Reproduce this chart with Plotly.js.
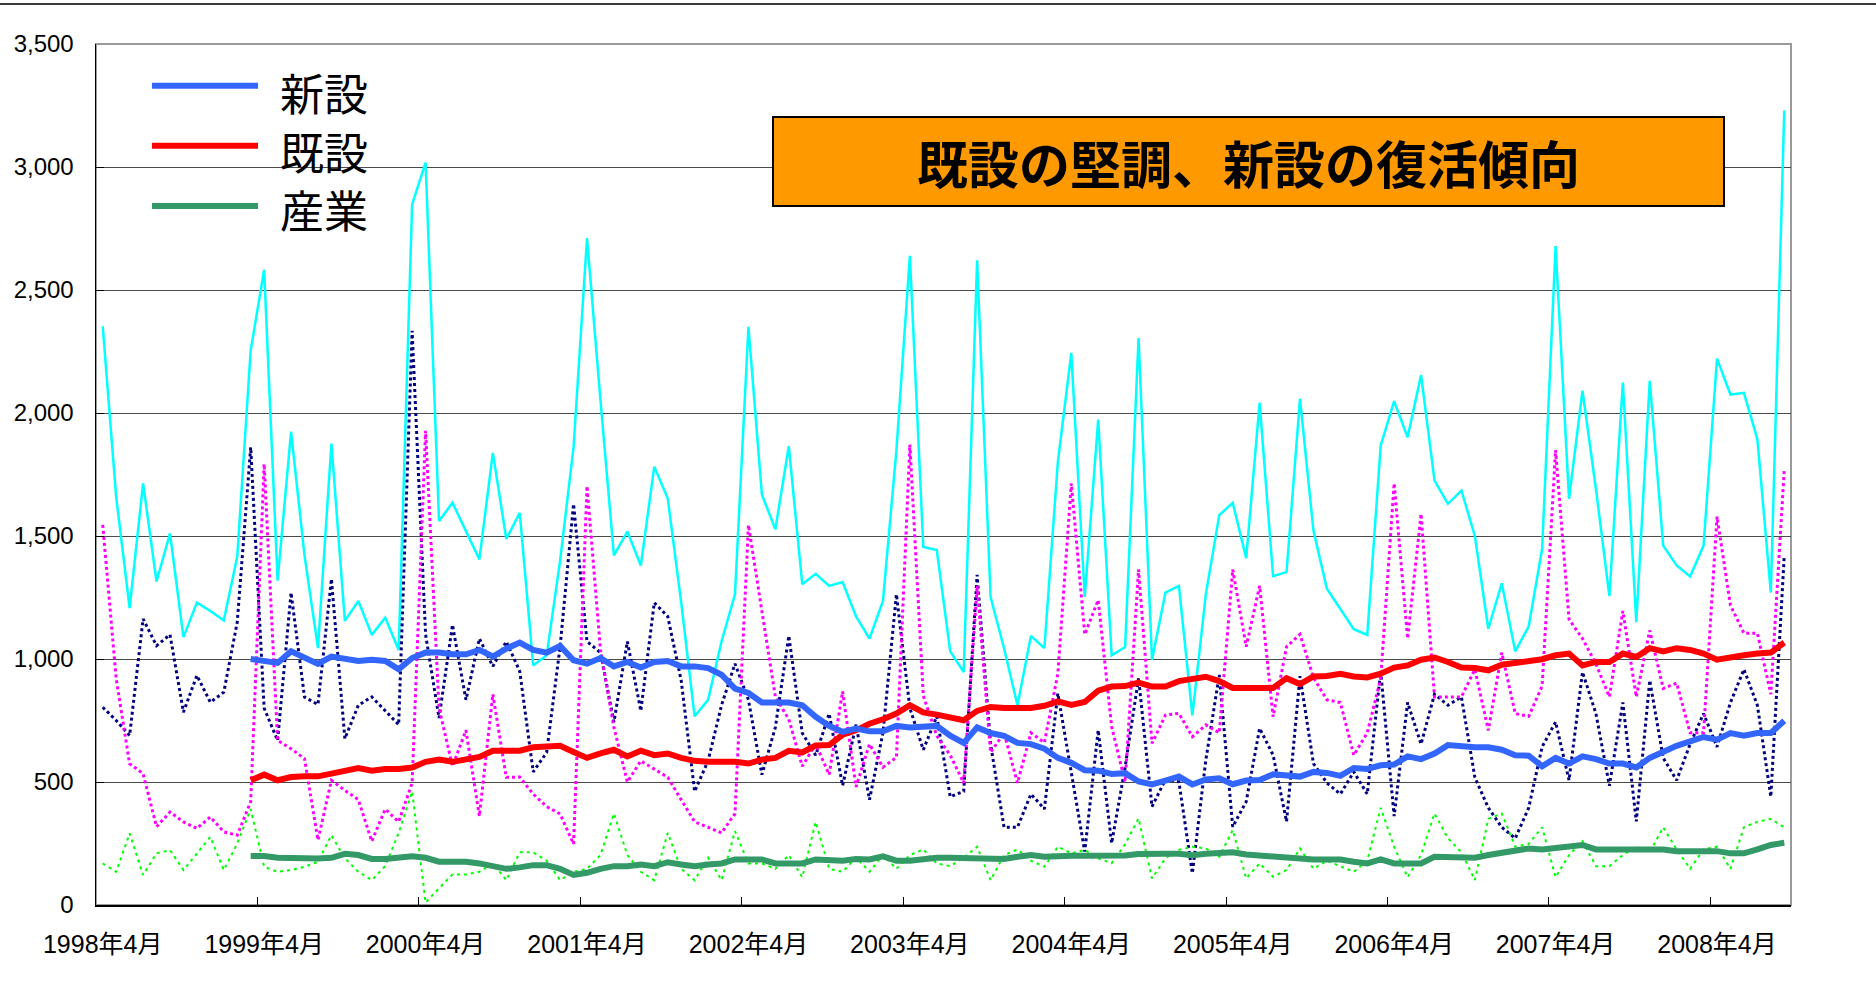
<!DOCTYPE html>
<html>
<head>
<meta charset="utf-8">
<script src="https://cdn.plot.ly/plotly-3.0.1.min.js"></script>
<style>
html,body{margin:0;padding:0;background:#fff;}
#chart{position:absolute;left:0;top:0;width:1876px;height:982px;}
#topline{position:absolute;left:0;top:3px;width:1876px;height:2px;background:#3a3a3a;z-index:5;}
</style>
</head>
<body>
<div id="chart"></div>
<div id="topline"></div>
<script>
// ---- categories (monthly, 1998年4月 – 2008年9月) ----
const months = [
"1998年4月","1998年5月","1998年6月","1998年7月","1998年8月","1998年9月","1998年10月","1998年11月","1998年12月","1999年1月","1999年2月","1999年3月",
"1999年4月","1999年5月","1999年6月","1999年7月","1999年8月","1999年9月","1999年10月","1999年11月","1999年12月","2000年1月","2000年2月","2000年3月",
"2000年4月","2000年5月","2000年6月","2000年7月","2000年8月","2000年9月","2000年10月","2000年11月","2000年12月","2001年1月","2001年2月","2001年3月",
"2001年4月","2001年5月","2001年6月","2001年7月","2001年8月","2001年9月","2001年10月","2001年11月","2001年12月","2002年1月","2002年2月","2002年3月",
"2002年4月","2002年5月","2002年6月","2002年7月","2002年8月","2002年9月","2002年10月","2002年11月","2002年12月","2003年1月","2003年2月","2003年3月",
"2003年4月","2003年5月","2003年6月","2003年7月","2003年8月","2003年9月","2003年10月","2003年11月","2003年12月","2004年1月","2004年2月","2004年3月",
"2004年4月","2004年5月","2004年6月","2004年7月","2004年8月","2004年9月","2004年10月","2004年11月","2004年12月","2005年1月","2005年2月","2005年3月",
"2005年4月","2005年5月","2005年6月","2005年7月","2005年8月","2005年9月","2005年10月","2005年11月","2005年12月","2006年1月","2006年2月","2006年3月",
"2006年4月","2006年5月","2006年6月","2006年7月","2006年8月","2006年9月","2006年10月","2006年11月","2006年12月","2007年1月","2007年2月","2007年3月",
"2007年4月","2007年5月","2007年6月","2007年7月","2007年8月","2007年9月","2007年10月","2007年11月","2007年12月","2008年1月","2008年2月","2008年3月",
"2008年4月","2008年5月","2008年6月","2008年7月","2008年8月","2008年9月"
];
const tickMonths = ["1998年4月","1999年4月","2000年4月","2001年4月","2002年4月","2003年4月","2004年4月","2005年4月","2006年4月","2007年4月","2008年4月"];
// moving averages start at 1999年3月
const maMonths = months.slice(11);

// ---- monthly values ----
const totalMonthly = [
2352,1658,1207,1714,1315,1511,1089,1229,1195,1157,1416,2255,
2582,1319,1924,1421,1044,1876,1155,1236,1098,1168,1037,2848,
3018,1561,1635,1520,1405,1838,1488,1594,974,1015,1400,1861,
2711,2052,1421,1518,1380,1782,1653,1230,767,834,1071,1263,
2350,1669,1527,1865,1304,1346,1297,1313,1173,1083,1236,1849,
2639,1455,1443,1031,947,2621,1252,1044,812,1094,1044,1800,
2244,1252,1973,1015,1049,2305,997,1270,1297,771,1263,1585,
1635,1410,2041,1337,1353,2058,1522,1286,1204,1121,1098,1867,
2048,1901,2154,1725,1631,1685,1500,1123,1308,1031,1132,1448,
2679,1651,2091,1691,1256,2124,1150,2131,1461,1380,1335,1461,
2221,2075,2082,1894,1270,3230
];
const newMonthly = [
804,750,689,1163,1054,1099,784,933,824,865,1150,1861,
800,669,1270,845,815,1325,676,812,846,789,733,2334,
1100,760,1139,834,1083,970,1071,950,541,620,1050,1630,
1071,1026,744,1071,789,1229,1173,913,462,586,812,981,
834,530,722,1094,699,609,778,485,733,428,700,1263,
800,631,767,440,462,1342,654,316,316,451,390,860,
540,217,711,251,560,922,400,510,501,129,589,935,
318,420,718,610,339,930,575,496,451,541,451,950,
361,823,654,857,812,846,519,395,316,271,395,643,
744,507,947,778,485,823,340,913,598,507,654,778,
643,823,958,812,440,1421
];
const existMonthly = [
1545,920,574,534,318,378,338,311,358,297,284,420,
1793,669,635,595,264,507,466,428,259,390,338,496,
1928,800,564,710,361,857,519,520,451,400,370,248,
1703,1037,722,500,586,553,519,428,338,316,293,372,
1545,1195,846,755,564,654,530,868,480,654,560,600,
1872,850,688,609,496,1297,620,700,496,700,660,940,
1714,1100,1240,725,500,1364,657,772,779,684,732,700,
1364,1050,1297,765,1050,1100,925,834,823,609,700,920,
1714,1083,1590,846,846,846,958,710,1026,778,767,890,
1849,1161,1083,980,846,1195,846,1116,880,902,700,700,
1579,1218,1105,1105,857,1770
];
const industryMonthly = [
169,135,291,122,210,223,142,210,277,142,250,390,
155,135,142,155,176,284,190,135,101,158,293,462,
10,68,124,124,135,169,101,214,214,180,101,135,
147,203,372,203,135,101,293,147,101,192,101,300,
169,169,147,203,113,338,147,135,192,135,203,147,
203,226,169,158,192,237,101,203,226,180,156,237,
210,224,190,170,247,352,108,190,224,237,230,196,
305,108,169,115,142,230,147,180,158,135,180,395,
237,113,203,372,271,214,101,350,372,237,248,316,
113,203,259,158,158,203,237,214,316,226,147,226,
237,147,316,338,350,316
];

// ---- moving averages (from 1999年3月) ----
const newMA = [
1000,
993,984,1031,1004,980,1010,1000,992,997,992,958,1004,
1026,1026,1019,1019,1037,1010,1042,1067,1037,1026,1053,995,
981,1004,970,988,965,988,992,970,970,963,936,880,
862,823,823,823,812,765,728,704,717,706,706,728,
722,728,728,688,659,722,699,688,659,654,635,598,
578,548,546,533,536,502,490,506,522,490,510,515,
491,506,508,531,524,522,541,537,525,557,553,568,
571,604,593,616,650,643,641,641,631,609,607,564,
598,575,604,593,575,575,559,598,625,647,665,683,
672,699,688,699,699,749
];
const existMA = [
507,
530,507,520,523,523,534,548,557,546,553,553,559,
582,591,582,591,602,627,627,627,641,641,647,622,
598,616,631,604,627,609,616,598,586,582,582,582,
575,591,598,627,620,648,650,692,710,737,755,778,
812,783,774,760,751,789,805,801,801,801,810,828,
813,825,871,888,890,904,888,888,910,922,928,910,
882,882,882,882,922,898,929,931,940,929,925,940,
965,974,997,1006,988,965,963,954,977,986,992,999,
1015,1022,974,988,988,1022,1008,1044,1031,1044,1037,1022,
997,1008,1015,1022,1026,1067
];
const industryMA = [
199,
199,192,189,189,189,192,208,203,187,187,192,198,
192,176,176,176,169,158,147,153,162,162,147,122,
131,147,158,158,165,158,174,165,158,165,169,185,
185,185,169,169,169,185,180,180,187,185,198,180,
180,187,192,192,192,187,187,187,196,203,196,200,
200,200,200,200,201,207,210,208,208,202,208,208,
214,205,200,200,194,188,185,185,185,176,169,185,
169,169,169,196,196,196,192,203,214,221,230,226,
230,237,244,226,226,226,232,226,226,219,219,214,
219,210,210,226,244,253
];

const legendNames = ["新設","既設","産業"];
const maColors = ["#3366FF","#FF0000","#339966"];

const traces = [
  {type:"scatter",mode:"lines",name:"新設+既設（月次）",x:months,y:totalMonthly,
   line:{color:"#00FFFF",width:2.5}},
  {type:"scatter",mode:"lines",name:"新設（月次）",x:months,y:newMonthly,
   line:{color:"#000080",width:3,dash:"3px,3px"}},
  {type:"scatter",mode:"lines",name:"既設（月次）",x:months,y:existMonthly,
   line:{color:"#FF00FF",width:3,dash:"3px,3px"}},
  {type:"scatter",mode:"lines",name:"産業（月次）",x:months,y:industryMonthly,
   line:{color:"#00FF00",width:2,dash:"3px,4px"}},
  {type:"scatter",mode:"lines",name:legendNames[2],x:maMonths,y:industryMA,
   line:{color:maColors[2],width:6}},
  {type:"scatter",mode:"lines",name:legendNames[1],x:maMonths,y:existMA,
   line:{color:maColors[1],width:6}},
  {type:"scatter",mode:"lines",name:legendNames[0],x:maMonths,y:newMA,
   line:{color:maColors[0],width:6}},
  {type:"scatter",mode:"lines",x:[],y:[],xaxis:"x2",yaxis:"y",showlegend:false,hoverinfo:"skip"}
];

// layout geometry
const legY = [0.9516,0.8819,0.8118];
const legTextY = [0.9443,0.8757,0.8083];
const shapes = [
  {type:"rect",xref:"paper",yref:"paper",x0:0,x1:1,y0:0,y1:1,
   line:{color:"#9a9a9a",width:2},fillcolor:"rgba(0,0,0,0)",layer:"below"}
];
const annotations = [];
for(let k=0;k<3;k++){
  shapes.push({type:"line",xref:"paper",yref:"paper",x0:0.0330,x1:0.0956,y0:legY[k],y1:legY[k],
    line:{color:maColors[k],width:6}});
  annotations.push({xref:"paper",yref:"paper",x:0.1080,y:legTextY[k],xanchor:"left",yanchor:"middle",
    text:legendNames[k],showarrow:false,height:46,valign:"middle",borderpad:0,
    font:{size:44,color:"#000",family:"'Noto Sans CJK JP', sans-serif"}});
}
annotations.push({xref:"paper",yref:"paper",x:0.6797,y:0.8635,xanchor:"center",yanchor:"middle",
  text:"<b>既設の堅調、新設の復活傾向</b>",showarrow:false,
  font:{size:51,color:"#000",family:"'Noto Sans CJK JP', sans-serif"},
  bgcolor:"#FF9900",bordercolor:"#000",borderwidth:2,borderpad:0,width:949,height:87,valign:"middle"});

const layout = {
  width:1876,height:982,
  margin:{l:96,r:85,t:44,b:77,pad:0},
  paper_bgcolor:"#ffffff",plot_bgcolor:"#ffffff",
  showlegend:false,
  font:{family:"'Liberation Sans', Arial, 'Noto Sans CJK JP', sans-serif",color:"#000"},
  xaxis:{type:"category",range:[-0.5,125.5],autorange:false,
    tickmode:"array",tickvals:tickMonths,ticktext:tickMonths,
    ticks:"",showgrid:false,zeroline:false,
    showline:true,linecolor:"#000",linewidth:2,
    tickfont:{size:25,family:"'Liberation Sans', 'Noto Sans CJK JP', sans-serif"},
    ticklabelstandoff:16},
  xaxis2:{overlaying:"x",anchor:"y",type:"linear",range:[-0.5,125.5],autorange:false,
    tickmode:"linear",tick0:11.5,dtick:12,ticks:"inside",ticklen:8,tickwidth:1,tickcolor:"#000",
    showticklabels:false,showgrid:false,showline:false,zeroline:false},
  yaxis:{range:[0,3500],autorange:false,tickmode:"linear",tick0:0,dtick:500,tickformat:",d",
    ticks:"inside",ticklen:8,tickwidth:1,tickcolor:"#000",
    showgrid:true,gridcolor:"#4a4a4a",gridwidth:1,zeroline:false,
    showline:true,linecolor:"#000",linewidth:1.5,
    tickfont:{size:24},ticklabelstandoff:16},
  shapes:shapes,
  annotations:annotations
};

Plotly.newPlot("chart",traces,layout,{displayModeBar:false,staticPlot:true});
</script>
</body>
</html>
